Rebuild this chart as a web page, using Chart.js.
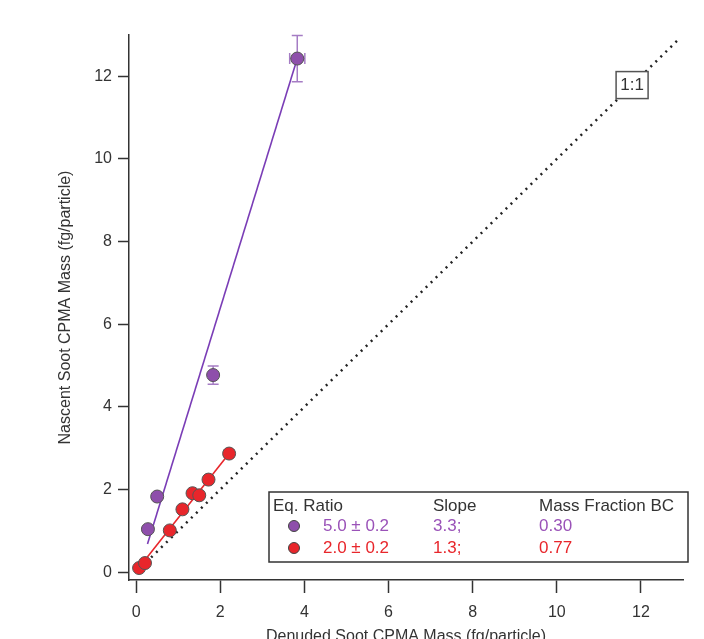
<!DOCTYPE html>
<html>
<head>
<meta charset="utf-8">
<script src="https://cdn.jsdelivr.net/npm/chart.js@4"></script>
<style>
  html, body { margin: 0; padding: 0; background: #fff; }
  #wrap { width: 704px; height: 639px; position: relative; }
</style>
</head>
<body>
<div id="wrap"><canvas id="chart"></canvas></div>
<script>
// Eq. ratio 5.0 (purple)
const purpleX = [0.28, 0.50, 1.83, 3.83];
const purpleY = [1.04, 1.83, 4.77, 12.43];
const purpleErrX = [0, 0, 0.04, 0.18];
const purpleErrY = [0, 0, 0.22, 0.56];
const purpleFitX = [0.27, 3.83];
const purpleFitY = [0.68, 12.43];

// Eq. ratio 2.0 (red)
const redX = [0.07, 0.21, 0.80, 1.10, 1.34, 1.50, 1.72, 2.21];
const redY = [0.10, 0.22, 1.01, 1.52, 1.91, 1.86, 2.24, 2.87];
const redErrX = [0, 0, 0, 0, 0, 0, 0.03, 0.08];
const redErrY = [0, 0, 0, 0, 0, 0, 0.04, 0.09];
const redFitX = [0.07, 2.21];
const redFitY = [0.11, 2.87];

// 1:1 reference line
const oneToOneX = [0, 12.9];
const oneToOneY = [0, 12.9];

const xTicks = [0, 2, 4, 6, 8, 10, 12];
const yTicks = [0, 2, 4, 6, 8, 10, 12];

const legendHeader = ['Eq. Ratio', 'Slope', 'Mass Fraction BC'];
const legendRatios = ['5.0 \u00b1 0.2', '2.0 \u00b1 0.2'];
const legendSlopes = ['3.3;', '1.3;'];
const legendFractions = ['0.30', '0.77'];

const PURPLE = '#8e4fab';
const PURPLE_LINE = '#7a3db6';
const PURPLE_TEXT = '#9a52b8';
const RED = '#e8262b';
const FONT = '"Liberation Sans", Arial, sans-serif';

function pts(xs, ys) {
    return xs.map((x, i) => ({ x: x, y: ys[i] }));
}

// error bars drawn under the markers
const errorBars = {
    id: 'errorBars',
    beforeDatasetsDraw(chart) {
        const ctx = chart.ctx;
        const xs = chart.scales.x, ys = chart.scales.y;
        const sets = [
            [purpleX, purpleY, purpleErrX, purpleErrY, '#a57cc4'],
            [redX, redY, redErrX, redErrY, '#f08080']
        ];
        ctx.save();
        ctx.lineWidth = 1.5;
        sets.forEach(s => {
            ctx.strokeStyle = s[4];
            for (let i = 0; i < s[0].length; i++) {
                const px = xs.getPixelForValue(s[0][i]);
                const py = ys.getPixelForValue(s[1][i]);
                if (s[3][i] > 0) {
                    const t = ys.getPixelForValue(s[1][i] + s[3][i]);
                    const b = ys.getPixelForValue(s[1][i] - s[3][i]);
                    ctx.beginPath();
                    ctx.moveTo(px, t); ctx.lineTo(px, b);
                    ctx.moveTo(px - 5.5, t); ctx.lineTo(px + 5.5, t);
                    ctx.moveTo(px - 5.5, b); ctx.lineTo(px + 5.5, b);
                    ctx.stroke();
                }
                if (s[2][i] > 0) {
                    const l = xs.getPixelForValue(s[0][i] - s[2][i]);
                    const r = xs.getPixelForValue(s[0][i] + s[2][i]);
                    ctx.beginPath();
                    ctx.moveTo(l, py); ctx.lineTo(r, py);
                    ctx.moveTo(l, py - 5.5); ctx.lineTo(l, py + 5.5);
                    ctx.moveTo(r, py - 5.5); ctx.lineTo(r, py + 5.5);
                    ctx.stroke();
                }
            }
        });
        ctx.restore();
    }
};

// "1:1" tag and the table-style legend
const annotations = {
    id: 'annotations',
    afterDraw(chart) {
        const ctx = chart.ctx;
        const xs = chart.scales.x, ys = chart.scales.y;
        ctx.save();

        // 1:1 tag on the dotted line
        const cx = xs.getPixelForValue(11.79), cy = ys.getPixelForValue(11.8);
        ctx.fillStyle = '#fff';
        ctx.fillRect(cx - 16, cy - 13, 32, 27);
        ctx.strokeStyle = '#555';
        ctx.lineWidth = 1.5;
        ctx.strokeRect(cx - 16, cy - 13, 32, 27);
        ctx.fillStyle = '#333';
        ctx.font = '17px ' + FONT;
        ctx.textAlign = 'center';
        ctx.textBaseline = 'middle';
        ctx.fillText('1:1', cx, cy + 1);

        // legend box
        const bx = 269, by = 492, bw = 419, bh = 70;
        ctx.fillStyle = '#fff';
        ctx.fillRect(bx, by, bw, bh);
        ctx.strokeStyle = '#333';
        ctx.lineWidth = 1.5;
        ctx.strokeRect(bx, by, bw, bh);

        const cols = [273, 433, 539];
        const rows = [506, 526, 548];
        ctx.textAlign = 'left';
        ctx.font = '17px ' + FONT;
        ctx.fillStyle = '#333';
        legendHeader.forEach((t, i) => ctx.fillText(t, cols[i], rows[0]));

        const colours = [PURPLE_TEXT, RED];
        const markers = [PURPLE, RED];
        for (let r = 0; r < 2; r++) {
            const y = rows[r + 1];
            ctx.beginPath();
            ctx.arc(294, y, 5.5, 0, Math.PI * 2);
            ctx.fillStyle = markers[r];
            ctx.fill();
            ctx.strokeStyle = '#444';
            ctx.lineWidth = 1;
            ctx.stroke();
            ctx.fillStyle = colours[r];
            ctx.fillText(legendRatios[r], 323, y);
            ctx.fillText(legendSlopes[r], cols[1], y);
            ctx.fillText(legendFractions[r], cols[2], y);
        }
        ctx.restore();
    }
};

const axisColor = '#333';

new Chart(document.getElementById('chart'), {
    type: 'scatter',
    data: {
        datasets: [
            {
                label: 'purple',
                data: pts(purpleX, purpleY),
                backgroundColor: PURPLE,
                borderColor: '#555',
                borderWidth: 1,
                pointRadius: 6.5,
                order: 1
            },
            {
                label: 'red',
                data: pts(redX, redY),
                backgroundColor: RED,
                borderColor: '#555',
                borderWidth: 1,
                pointRadius: 6.5,
                order: 0
            },
            {
                label: 'purple fit',
                data: pts(purpleFitX, purpleFitY),
                showLine: true,
                borderColor: PURPLE_LINE,
                borderWidth: 1.6,
                pointRadius: 0,
                order: 3
            },
            {
                label: 'red fit',
                data: pts(redFitX, redFitY),
                showLine: true,
                borderColor: RED,
                borderWidth: 1.6,
                pointRadius: 0,
                order: 3
            },
            {
                label: '1:1',
                data: pts(oneToOneX, oneToOneY),
                showLine: true,
                borderColor: '#222',
                borderWidth: 2.5,
                borderDash: [2, 5],
                pointRadius: 0,
                order: 4
            }
        ]
    },
    options: {
        responsive: true,
        maintainAspectRatio: false,
        animation: false,
        layout: {
            padding: { left: 52, top: 35, right: 21, bottom: 0 }
        },
        plugins: {
            legend: { display: false },
            tooltip: { enabled: false }
        },
        scales: {
            x: {
                type: 'linear',
                min: -0.17,
                max: 13,
                afterFit: scale => { scale.height = 59; },
                afterBuildTicks: scale => { scale.ticks = xTicks.map(v => ({ value: v })); },
                grid: {
                    drawOnChartArea: false,
                    drawTicks: true,
                    tickLength: 13,
                    tickWidth: 1.5,
                    tickColor: axisColor
                },
                border: { display: true, color: axisColor, width: 1.5 },
                ticks: {
                    color: axisColor,
                    padding: 10,
                    maxRotation: 0,
                    font: { family: FONT, size: 16 }
                },
                title: {
                    display: true,
                    text: 'Denuded Soot CPMA Mass (fg/particle)',
                    color: axisColor,
                    padding: { top: 0, bottom: -7 },
                    font: { family: FONT, size: 16 }
                }
            },
            y: {
                type: 'linear',
                min: -0.19,
                max: 13,
                afterFit: scale => { scale.width = 77; },
                afterBuildTicks: scale => { scale.ticks = yTicks.map(v => ({ value: v })); },
                grid: {
                    drawOnChartArea: false,
                    drawTicks: true,
                    tickLength: 11,
                    tickWidth: 1.5,
                    tickColor: axisColor
                },
                border: { display: true, color: axisColor, width: 1.5 },
                ticks: {
                    color: axisColor,
                    padding: 6,
                    font: { family: FONT, size: 16 }
                },
                title: {
                    display: true,
                    text: 'Nascent Soot CPMA Mass (fg/particle)',
                    color: axisColor,
                    padding: { top: 4, bottom: 4 },
                    font: { family: FONT, size: 16 }
                }
            }
        }
    },
    plugins: [errorBars, annotations]
});
</script>
</body>
</html>
